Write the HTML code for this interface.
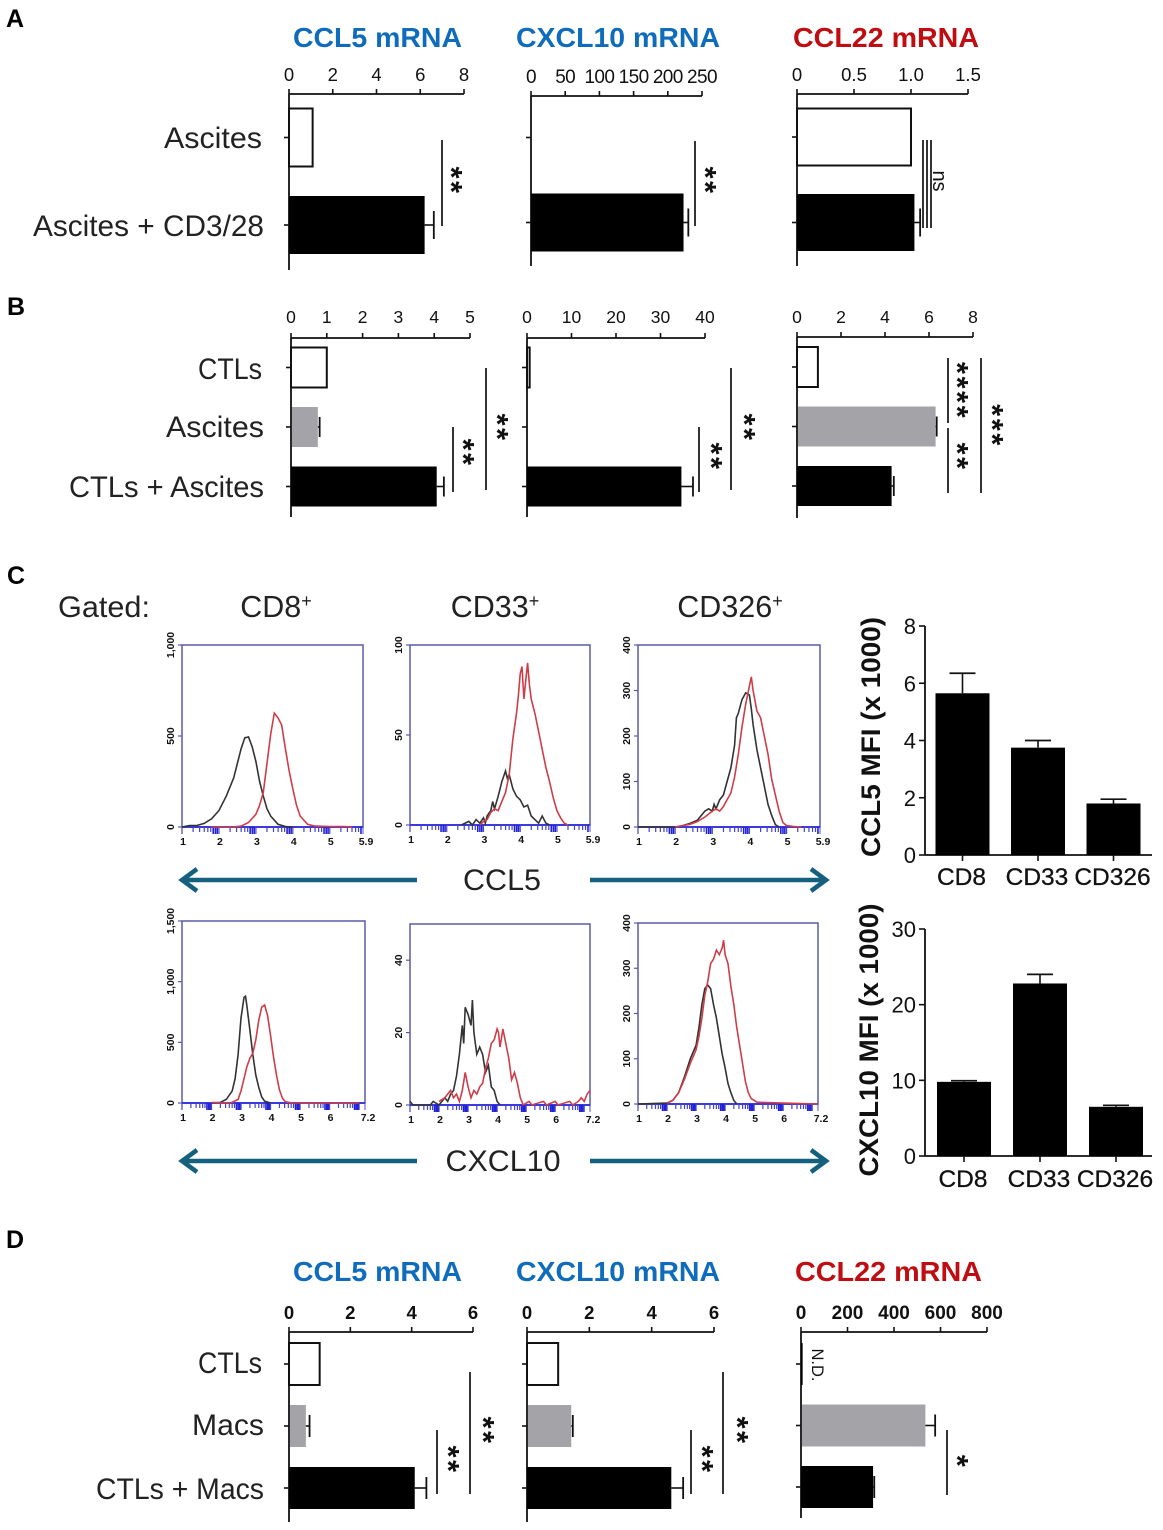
<!DOCTYPE html>
<html lang="en">
<head>
<meta charset="utf-8">
<title>CCL5, CXCL10 and CCL22 expression panels</title>
<style>
  html, body { margin: 0; padding: 0; background: #fff; }
  svg { display: block; }
  text { font-family: "Liberation Sans", sans-serif; fill: #111; }
  .cat { font-size: 29.5px; fill: #222; }
  .gate { font-size: 30.5px; fill: #222; }
  .title { font-size: 28px; font-weight: bold; }
  .blue { fill: #0f6cbd; }
  .red { fill: #bf0d12; }
  .letter { font-size: 25px; font-weight: bold; fill: #000; }
</style>
</head>
<body>
<svg id="fig" xmlns="http://www.w3.org/2000/svg" width="1163" height="1530" viewBox="0 0 1163 1530">
  <rect width="1163" height="1530" fill="#fff"/>

  <text class="letter" x="6" y="27">A</text>
  <text class="letter" x="7" y="315">B</text>
  <text class="letter" x="7" y="584">C</text>
  <text class="letter" x="6" y="1248">D</text>

  <text class="title blue" x="293" y="47" textLength="169" lengthAdjust="spacingAndGlyphs">CCL5 mRNA</text>
  <text class="title blue" x="516" y="47" textLength="204" lengthAdjust="spacingAndGlyphs">CXCL10 mRNA</text>
  <text class="title red" x="793" y="47" textLength="186" lengthAdjust="spacingAndGlyphs">CCL22 mRNA</text>

  <text class="title blue" x="293" y="1309" dy="-28" textLength="169" lengthAdjust="spacingAndGlyphs">CCL5 mRNA</text>
  <text class="title blue" x="516" y="1309" dy="-28" textLength="204" lengthAdjust="spacingAndGlyphs">CXCL10 mRNA</text>
  <text class="title red" x="795" y="1309" dy="-28" textLength="187" lengthAdjust="spacingAndGlyphs">CCL22 mRNA</text>

  <text class="cat" x="262" y="148" text-anchor="end" textLength="98" lengthAdjust="spacingAndGlyphs">Ascites</text>
  <text class="cat" x="264" y="236" text-anchor="end" textLength="231" lengthAdjust="spacingAndGlyphs">Ascites + CD3/28</text>
  <text class="cat" x="262" y="379" text-anchor="end" textLength="64" lengthAdjust="spacingAndGlyphs">CTLs</text>
  <text class="cat" x="264" y="437" text-anchor="end" textLength="98" lengthAdjust="spacingAndGlyphs">Ascites</text>
  <text class="cat" x="264" y="497" text-anchor="end" textLength="195" lengthAdjust="spacingAndGlyphs">CTLs + Ascites</text>
  <text class="cat" x="262" y="1373" text-anchor="end" textLength="64" lengthAdjust="spacingAndGlyphs">CTLs</text>
  <text class="cat" x="264" y="1435" text-anchor="end" textLength="72" lengthAdjust="spacingAndGlyphs">Macs</text>
  <text class="cat" x="264" y="1499" text-anchor="end" textLength="168" lengthAdjust="spacingAndGlyphs">CTLs + Macs</text>

  <text class="cat" x="58" y="617" textLength="92" lengthAdjust="spacingAndGlyphs">Gated:</text>
  <text class="gate" x="276" y="617" text-anchor="middle">CD8<tspan font-size="18" dy="-10">+</tspan></text>
  <text class="gate" x="495" y="617" text-anchor="middle">CD33<tspan font-size="18" dy="-10">+</tspan></text>
  <text class="gate" x="730" y="617" text-anchor="middle">CD326<tspan font-size="18" dy="-10">+</tspan></text>

  <text class="cat" x="502" y="890" text-anchor="middle" textLength="78" lengthAdjust="spacingAndGlyphs">CCL5</text>
  <text class="cat" x="503" y="1171" text-anchor="middle" textLength="115" lengthAdjust="spacingAndGlyphs">CXCL10</text>

  <g fill="none" stroke="#15607f" stroke-width="4.5">
    <path d="M417 880H183M197 869L182 880L197 891"/>
    <path d="M590 880H825M811 869L826 880L811 891"/>
    <path d="M417 1161H183M197 1150L182 1161L197 1172"/>
    <path d="M590 1161H825M811 1150L826 1161L811 1172"/>
  </g>

  <text transform="translate(880,737) rotate(-90)" text-anchor="middle" font-size="27" font-weight="bold" textLength="240" lengthAdjust="spacingAndGlyphs">CCL5 MFI (x 1000)</text>
  <text transform="translate(878,1040) rotate(-90)" text-anchor="middle" font-size="27" font-weight="bold" textLength="273" lengthAdjust="spacingAndGlyphs">CXCL10 MFI (x 1000)</text>

  <g id="charts"></g>
</svg>

<script>
/* ---------- Horizontal bar data (panels A, B, D) ---------- */
const aCcl5Ticks = [0, 2, 4, 6, 8];
const aCcl5Values = [1.08, 6.2];
const aCcl5Errors = [0, 0.42];
const aCxcl10Ticks = [0, 50, 100, 150, 200, 250];
const aCxcl10Values = [0, 223];
const aCxcl10Errors = [0, 7];
const aCcl22Ticks = ["0", "0.5", "1.0", "1.5"];
const aCcl22Values = [1.0, 1.03];
const aCcl22Errors = [0, 0.05];

const bCcl5Ticks = [0, 1, 2, 3, 4, 5];
const bCcl5Values = [1, 0.75, 4.07];
const bCcl5Errors = [0, 0.05, 0.2];
const bCxcl10Ticks = [0, 10, 20, 30, 40];
const bCxcl10Values = [0.6, 0, 34.7];
const bCxcl10Errors = [0, 0, 2.6];
const bCcl22Ticks = [0, 2, 4, 6, 8];
const bCcl22Values = [0.95, 6.3, 4.3];
const bCcl22Errors = [0, 0.05, 0.1];

const dCcl5Ticks = [0, 2, 4, 6];
const dCcl5Values = [1, 0.55, 4.1];
const dCcl5Errors = [0, 0.12, 0.38];
const dCxcl10Ticks = [0, 2, 4, 6];
const dCxcl10Values = [1, 1.42, 4.63];
const dCxcl10Errors = [0, 0.05, 0.38];
const dCcl22Ticks = [0, 200, 400, 600, 800];
const dCcl22Values = [7, 535, 310];
const dCcl22Errors = [0, 42, 5];

/* ---------- Vertical MFI bar data (panel C) ---------- */
const mfiCategories = ["CD8", "CD33", "CD326"];
const ccl5MfiTicks = [0, 2, 4, 6, 8];
const ccl5MfiValues = [5.65, 3.75, 1.8];
const ccl5MfiErrors = [0.7, 0.25, 0.15];
const cxcl10MfiTicks = [0, 10, 20, 30];
const cxcl10MfiValues = [9.8, 22.8, 6.5];
const cxcl10MfiErrors = [0.15, 1.2, 0.2];

/* ---------- Flow cytometry histogram data ---------- */
const ccl5Cd8X = [1, 1.2, 1.4, 1.6, 1.8, 2, 2.2, 2.4, 2.5, 2.6, 2.7, 2.8, 2.9, 3, 3.1, 3.2, 3.3, 3.4, 3.6, 3.8, 4];
const ccl5Cd8Iso = [0, 8, 8, 20, 45, 90, 170, 270, 350, 430, 490, 495, 440, 360, 250, 170, 100, 60, 15, 3, 0];
const ccl5Cd8StainX = [1.8, 2.4, 2.6, 2.8, 3, 3.1, 3.2, 3.3, 3.4, 3.5, 3.6, 3.7, 3.8, 3.9, 4, 4.1, 4.2, 4.4, 4.6, 5, 5.4, 5.6];
const ccl5Cd8Stain = [0, 0, 5, 25, 70, 120, 190, 350, 510, 626, 600, 560, 430, 310, 210, 120, 60, 15, 5, 3, 3, 0];

const ccl5Cd33X = [2.4, 2.6, 2.7, 2.8, 2.9, 3, 3.05, 3.1, 3.2, 3.25, 3.3, 3.4, 3.5, 3.6, 3.65, 3.7, 3.8, 3.9, 4, 4.1, 4.2, 4.3, 4.4, 4.5, 4.6, 4.7, 4.8];
const ccl5Cd33Iso = [0, 2, 0, 3, 1, 4, 1, 5, 8, 13, 9, 16, 24, 30, 26, 28, 20, 16, 14, 10, 11, 5, 3, 1, 5, 1, 0];
const ccl5Cd33StainX = [2.9, 3, 3.1, 3.2, 3.3, 3.4, 3.5, 3.6, 3.7, 3.8, 3.9, 3.95, 4, 4.05, 4.1, 4.15, 4.2, 4.25, 4.3, 4.4, 4.5, 4.6, 4.7, 4.8, 4.9, 5, 5.1, 5.2, 5.3];
const ccl5Cd33Stain = [0, 2, 3, 7, 9, 8, 13, 18, 28, 48, 62, 72, 84, 88, 70, 80, 90, 78, 70, 62, 52, 42, 32, 24, 15, 8, 4, 1, 0];

const ccl5Cd326X = [1, 2, 2.2, 2.4, 2.6, 2.7, 2.8, 2.9, 3, 3.05, 3.1, 3.2, 3.3, 3.4, 3.5, 3.6, 3.65, 3.7, 3.8, 3.9, 4, 4.05, 4.1, 4.2, 4.3, 4.4, 4.5, 4.6, 4.7, 4.8];
const ccl5Cd326Iso = [0, 0, 3, 8, 15, 25, 35, 40, 35, 50, 40, 60, 70, 100, 130, 180, 240, 250, 280, 295, 290, 260, 225, 170, 130, 90, 50, 25, 5, 0];
const ccl5Cd326StainX = [2, 2.2, 2.4, 2.6, 2.8, 3, 3.1, 3.2, 3.3, 3.4, 3.5, 3.6, 3.7, 3.8, 3.9, 4, 4.05, 4.1, 4.2, 4.3, 4.4, 4.5, 4.6, 4.7, 4.8, 4.9, 5, 5.2, 5.4];
const ccl5Cd326Stain = [0, 3, 6, 12, 22, 35, 40, 35, 45, 60, 75, 110, 160, 220, 270, 310, 330, 300, 255, 240, 200, 160, 105, 70, 35, 10, 3, 1, 0];

const cxcl10Cd8X = [2, 2.3, 2.5, 2.7, 2.8, 2.9, 3, 3.1, 3.15, 3.2, 3.3, 3.4, 3.5, 3.6, 3.7, 3.8, 4];
const cxcl10Cd8Iso = [0, 5, 30, 100, 200, 400, 700, 870, 880, 800, 600, 400, 230, 130, 50, 15, 0];
const cxcl10Cd8StainX = [2, 2.5, 2.7, 2.9, 3, 3.1, 3.2, 3.3, 3.4, 3.5, 3.6, 3.7, 3.8, 3.9, 4, 4.1, 4.2, 4.3, 4.4, 4.5, 4.7, 7];
const cxcl10Cd8Stain = [5, 0, 5, 30, 100, 200, 300, 370, 410, 520, 680, 790, 808, 720, 560, 380, 230, 110, 40, 10, 2, 0];

const cxcl10Cd33X = [1, 1.1, 1.7, 1.8, 2, 2.1, 2.2, 2.3, 2.4, 2.5, 2.6, 2.7, 2.8, 2.85, 2.9, 3, 3.1, 3.15, 3.2, 3.3, 3.4, 3.5, 3.6, 3.7, 3.8, 3.9, 4, 4.1];
const cxcl10Cd33Iso = [1, 0, 0, 1, 0, 1, 2, 1, 3, 4, 8, 14, 22, 17, 27, 25, 22, 29, 20, 14, 16, 14, 9, 11, 5, 4, 1, 0];
const cxcl10Cd33StainX = [2, 2.2, 2.4, 2.5, 2.6, 2.7, 2.8, 2.9, 3, 3.1, 3.2, 3.3, 3.4, 3.5, 3.6, 3.7, 3.8, 3.9, 4, 4.05, 4.1, 4.2, 4.3, 4.4, 4.5, 4.6, 4.7, 4.8, 4.9, 5.1, 5.2, 5.6, 5.7, 6, 6.1, 6.5, 6.6, 6.8, 6.9, 7, 7.1, 7.2];
const cxcl10Cd33Stain = [1, 2, 4, 2, 3, 1, 4, 9, 5, 2, 4, 3, 5, 6, 10, 13, 17, 18, 21, 20, 16, 21, 17, 13, 7, 9, 6, 2, 0, 1, 0, 1, 0, 1, 0, 1, 0, 1, 2, 1, 3, 4];

const cxcl10Cd326X = [1, 2, 2.2, 2.4, 2.6, 2.8, 3, 3.1, 3.2, 3.3, 3.4, 3.5, 3.6, 3.7, 3.8, 3.9, 4, 4.1, 4.2, 4.3, 4.4];
const cxcl10Cd326Iso = [0, 2, 8, 25, 60, 100, 130, 170, 220, 255, 263, 255, 220, 190, 150, 110, 80, 45, 25, 8, 0];
const cxcl10Cd326StainX = [2, 2.2, 2.4, 2.6, 2.8, 3, 3.1, 3.2, 3.3, 3.4, 3.5, 3.6, 3.7, 3.8, 3.9, 3.95, 4, 4.1, 4.2, 4.3, 4.4, 4.5, 4.6, 4.7, 4.8, 4.9, 5.1, 6, 7.2];
const cxcl10Cd326Stain = [2, 8, 25, 55, 90, 120, 150, 190, 240, 270, 310, 320, 340, 330, 345, 362, 330, 310, 260, 220, 170, 130, 90, 50, 25, 12, 4, 2, 0];

const histTicksK1 = [0, 500, 1000];
const histTicks100 = [0, 50, 100];
const histTicks400 = [0, 100, 200, 300, 400];
const histTicks1500 = [0, 500, 1000, 1500];
const histTicks50 = [0, 20, 40];

/* ---------- Drawing helpers ---------- */
const SVGNS = "http://www.w3.org/2000/svg";
const root = document.getElementById("charts");

function add(parent, tag, attrs, name, content) {
  const el = document.createElementNS(SVGNS, tag);
  for (const k in attrs) el.setAttribute(k, attrs[k]);
  
  
  if (content !== undefined) el.textContent = content;
  parent.appendChild(el);
  return el;
}
function line(parent, x1, y1, x2, y2, color, w, name) {
  return add(parent, "line", { x1, y1, x2, y2, stroke: color, "stroke-width": w }, name);
}
function stars(parent, cx, cy, label, name) {
  const fs = 31;
  add(parent, "text", {
    transform: "translate(" + (cx - fs * 0.48) + "," + cy + ") rotate(90)",
    "text-anchor": "middle", "font-size": fs, "font-weight": "bold", fill: "#000",
    "letter-spacing": "2.5"
  }, name, label);
}
const BAR_FILLS = { white: "#fff", gray: "#a4a4a8", black: "#000" };

function hbarChart(cfg) {
  const g = add(root, "g", {}, cfg.name);
  const maxVal = Math.max.apply(null, cfg.ticks.map(Number));
  const x = v => cfg.left + (v / maxVal) * (cfg.right - cfg.left);
  const y = i => cfg.firstCenter + i * cfg.step;
  const cap = cfg.capH || 10;

  line(g, cfg.left, cfg.axisY, cfg.right, cfg.axisY, "#111", 1.8, "x-axis");
  line(g, cfg.left, cfg.axisY, cfg.left, cfg.bottom, "#111", 1.8, "y-axis");

  cfg.ticks.forEach(t => {
    const px = x(Number(t));
    line(g, px, cfg.axisY - 5, px, cfg.axisY, "#111", 1.6, "x-tick");
    add(g, "text", {
      x: px, y: cfg.labelY, "text-anchor": "middle",
      "font-size": cfg.tickSize || 17.5, "font-weight": cfg.tickBold ? "bold" : "normal",
      "letter-spacing": cfg.tickSpacing || 0
    }, "x-tick-label", String(t));
  });

  cfg.values.forEach((v, i) => {
    const cy = y(i);
    line(g, cfg.left - 5, cy, cfg.left, cy, "#111", 1.6, "y-tick");
    const kind = cfg.kinds[i];
    if (v > 0) {
      add(g, "rect", {
        x: cfg.left + (kind === "gray" ? 1 : 0), y: cy - cfg.barH / 2,
        width: x(v) - cfg.left - (kind === "gray" ? 1 : 0), height: cfg.barH,
        fill: BAR_FILLS[kind],
        stroke: kind === "white" ? "#111" : "none", "stroke-width": 2
      }, "bar-" + kind);
    }
    const e = cfg.errors[i];
    if (e > 0) {
      line(g, x(v), cy, x(v + e), cy, "#111", 1.6, "error-bar");
      line(g, x(v + e), cy - cap, x(v + e), cy + cap, "#111", 1.8, "error-cap");
    }
  });

  (cfg.sig || []).forEach(s => {
    line(g, s.x, s.y1, s.x, s.y2, "#111", 1.7, "significance-line");
    if (s.label) stars(g, s.lx, s.ly, s.label, "significance-label");
  });
}

function vbarChart(cfg) {
  const g = add(root, "g", {}, cfg.name);
  const maxVal = Math.max.apply(null, cfg.ticks);
  const y = v => cfg.bottom - (v / maxVal) * (cfg.bottom - cfg.top);
  const x = i => cfg.firstCenter + i * cfg.step;

  line(g, cfg.left, cfg.top, cfg.left, cfg.bottom, "#111", 1.8, "y-axis");
  line(g, cfg.left, cfg.bottom, cfg.right, cfg.bottom, "#111", 1.8, "x-axis");

  cfg.ticks.forEach(t => {
    line(g, cfg.left - 6, y(t), cfg.left, y(t), "#111", 1.6, "y-tick");
    add(g, "text", { x: cfg.left - 9, y: y(t) + 8, "text-anchor": "end", "font-size": 22, fill: "#222" }, "y-tick-label", String(t));
  });
  cfg.categories.forEach((c, i) => {
    const cx = x(i);
    const v = cfg.values[i];
    const e = cfg.errors[i];
    add(g, "rect", { x: cx - cfg.barW / 2, y: y(v), width: cfg.barW, height: cfg.bottom - y(v), fill: "#000" }, "bar-" + c.toLowerCase());
    line(g, cx, y(v), cx, y(v + e), "#111", 1.6, "error-bar");
    line(g, cx - 13, y(v + e), cx + 13, y(v + e), "#111", 1.7, "error-cap");
    line(g, cx, cfg.bottom, cx, cfg.bottom + 6, "#111", 1.6, "x-tick");
    add(g, "text", {
      x: cx - 1, y: cfg.labelY, "text-anchor": "middle", "font-size": 24.5,
      fill: "#111", stroke: "#111", "stroke-width": 0.3
    }, "x-category-label", c);
  });
}

function histogram(cfg) {
  const g = add(root, "g", {}, cfg.name);
  const blue = "#5a5aa8";
  const x = d => cfg.left + (d - 1) / (cfg.decMax - 1) * (cfg.right - cfg.left);
  const y = c => cfg.bottom - c / cfg.yMax * (cfg.bottom - cfg.top);

  add(g, "rect", { x: cfg.left, y: cfg.top, width: cfg.right - cfg.left, height: cfg.bottom - cfg.top, fill: "#fff", stroke: blue, "stroke-width": 1.5 }, "plot-frame");
  line(g, cfg.left, cfg.bottom, cfg.right, cfg.bottom, "#2a2ae0", 1.8, "x-axis");

  for (let d = 1; d < cfg.decMax; d++) {
    for (let k = 1; k <= 9; k++) {
      const v = d + Math.log10(k);
      if (v > cfg.decMax) break;
      line(g, x(v), cfg.bottom, x(v), cfg.bottom + (k === 1 || k > 6 ? 7 : 5), k > 6 ? "#2020d8" : "#4444c8", k > 6 ? 1.6 : 1.2, "log-tick");
    }
    if (cfg.decMax - d > 0.5) {
      add(g, "text", { x: x(d) + 1, y: cfg.bottom + 18, "text-anchor": "middle", "font-size": 10.5, "font-weight": "bold", fill: "#3a3aa8" }, "x-tick-label", String(d));
    }
  }
  line(g, cfg.right, cfg.bottom, cfg.right, cfg.bottom + 7, "#5050c8", 1, "log-tick");
  add(g, "text", { x: cfg.right + 3, y: cfg.bottom + 18, "text-anchor": "middle", "font-size": 10.5, "font-weight": "bold", fill: "#3a3aa8" }, "x-tick-label", String(cfg.decMax));

  cfg.ticks.forEach(t => {
    line(g, cfg.left - 4, y(t), cfg.left, y(t), blue, 1.2, "y-tick");
    add(g, "text", {
      transform: "translate(" + (cfg.left - 8) + "," + y(t) + ") rotate(-90)",
      "text-anchor": "middle", "font-size": 10.5, "font-weight": "bold", fill: "#5a5aa8"
    }, "y-tick-label", t.toLocaleString("en-US"));
  });

  const path = (xs, ys) => xs.map((d, i) => (i ? "L" : "M") + x(d).toFixed(1) + " " + y(ys[i]).toFixed(1)).join("");
  add(g, "path", { d: path(cfg.isoX, cfg.iso), fill: "none", stroke: "#333", "stroke-width": 1.6 }, "isotype-curve");
  add(g, "path", { d: path(cfg.stainX, cfg.stain), fill: "none", stroke: "#cf3d48", "stroke-width": 1.6 }, "stain-curve");
}

/* ---------- Panel A ---------- */
const aKinds = ["white", "black"];
hbarChart({ name: "chart-a-ccl5", left: 289, right: 464, axisY: 94, bottom: 270, labelY: 81, tickSize: 18.5, capH: 14, firstCenter: 137.5, step: 87.5, barH: 58, ticks: aCcl5Ticks, values: aCcl5Values, errors: aCcl5Errors, kinds: aKinds,
  sig: [{ x: 442, y1: 140, y2: 226, label: "**", lx: 456, ly: 181 }] });
hbarChart({ name: "chart-a-cxcl10", left: 531, right: 702, axisY: 96, bottom: 266, labelY: 83, tickSize: 19, tickSpacing: -0.6, capH: 14, firstCenter: 137.5, step: 85, barH: 58, ticks: aCxcl10Ticks, values: aCxcl10Values, errors: aCxcl10Errors, kinds: aKinds,
  sig: [{ x: 695, y1: 141, y2: 226, label: "**", lx: 710, ly: 181 }] });
hbarChart({ name: "chart-a-ccl22", left: 797, right: 968, axisY: 94, bottom: 266, labelY: 81, tickSize: 18.5, capH: 14, firstCenter: 137, step: 85.5, barH: 57, ticks: aCcl22Ticks, values: aCcl22Values, errors: aCcl22Errors, kinds: aKinds,
  sig: [{ x: 923, y1: 140, y2: 228 }, { x: 927, y1: 140, y2: 228 }, { x: 931, y1: 140, y2: 228 }] });
add(root, "text", { transform: "translate(933,181) rotate(90)", "text-anchor": "middle", "font-size": 20, fill: "#333" }, "significance-ns", "ns");

/* ---------- Panel B ---------- */
const bKinds = ["white", "gray", "black"];
hbarChart({ name: "chart-b-ccl5", left: 291, right: 470, axisY: 338, bottom: 517, labelY: 323, firstCenter: 367.5, step: 59.5, barH: 40, ticks: bCcl5Ticks, values: bCcl5Values, errors: bCcl5Errors, kinds: bKinds,
  sig: [{ x: 453, y1: 427, y2: 492, label: "**", lx: 468, ly: 453 }, { x: 486, y1: 368, y2: 490, label: "**", lx: 502, ly: 428 }] });
hbarChart({ name: "chart-b-cxcl10", left: 527, right: 705, axisY: 338, bottom: 517, labelY: 323, firstCenter: 367.5, step: 59.5, barH: 40, ticks: bCxcl10Ticks, values: bCxcl10Values, errors: bCxcl10Errors, kinds: bKinds,
  sig: [{ x: 699, y1: 427, y2: 492, label: "**", lx: 716, ly: 457 }, { x: 731, y1: 368, y2: 490, label: "**", lx: 749, ly: 428 }] });
hbarChart({ name: "chart-b-ccl22", left: 797, right: 973, axisY: 337, bottom: 518, labelY: 323, firstCenter: 367, step: 59.5, barH: 40, ticks: bCcl22Ticks, values: bCcl22Values, errors: bCcl22Errors, kinds: bKinds,
  sig: [{ x: 948, y1: 358, y2: 423, label: "****", lx: 962, ly: 391 }, { x: 948, y1: 428, y2: 493, label: "**", lx: 962, ly: 457 }, { x: 981, y1: 358, y2: 493, label: "***", lx: 997, ly: 426 }] });

/* ---------- Panel D ---------- */
hbarChart({ name: "chart-d-ccl5", left: 289, right: 473, axisY: 1332, bottom: 1522, labelY: 1319, tickSize: 18.5, tickBold: true, capH: 11, firstCenter: 1364, step: 62, barH: 42, ticks: dCcl5Ticks, values: dCcl5Values, errors: dCcl5Errors, kinds: bKinds,
  sig: [{ x: 437, y1: 1430, y2: 1494, label: "**", lx: 453, ly: 1460 }, { x: 470, y1: 1372, y2: 1494, label: "**", lx: 488, ly: 1431 }] });
hbarChart({ name: "chart-d-cxcl10", left: 527, right: 714, axisY: 1332, bottom: 1522, labelY: 1319, tickSize: 18.5, tickBold: true, capH: 11, firstCenter: 1364, step: 62, barH: 42, ticks: dCxcl10Ticks, values: dCxcl10Values, errors: dCxcl10Errors, kinds: bKinds,
  sig: [{ x: 691, y1: 1430, y2: 1494, label: "**", lx: 707, ly: 1460 }, { x: 723, y1: 1372, y2: 1494, label: "**", lx: 742, ly: 1431 }] });
hbarChart({ name: "chart-d-ccl22", left: 801, right: 987, axisY: 1332, bottom: 1518, labelY: 1319, tickSize: 19, tickBold: true, capH: 11, firstCenter: 1364, step: 61.5, barH: 42, ticks: dCcl22Ticks, values: dCcl22Values, errors: dCcl22Errors, kinds: ["black", "gray", "black"],
  sig: [{ x: 947, y1: 1430, y2: 1495, label: "*", lx: 962, ly: 1462 }] });
add(root, "text", { transform: "translate(812,1365) rotate(90)", "text-anchor": "middle", "font-size": 16.5, fill: "#555" }, "not-detected-label", "N.D.");

/* ---------- Panel C: MFI bars ---------- */
vbarChart({ name: "chart-ccl5-mfi", left: 925, right: 1152, top: 626, bottom: 855, labelY: 885, firstCenter: 962.5, step: 75.5, barW: 54, categories: mfiCategories, ticks: ccl5MfiTicks, values: ccl5MfiValues, errors: ccl5MfiErrors });
vbarChart({ name: "chart-cxcl10-mfi", left: 925, right: 1152, top: 929, bottom: 1156, labelY: 1187, firstCenter: 964, step: 76, barW: 54, categories: mfiCategories, ticks: cxcl10MfiTicks, values: cxcl10MfiValues, errors: cxcl10MfiErrors });

/* ---------- Panel C: histograms ---------- */
histogram({ name: "histogram-ccl5-cd8", left: 182, right: 363, top: 645, bottom: 827, decMax: 5.9, yMax: 1000, ticks: histTicksK1, isoX: ccl5Cd8X, iso: ccl5Cd8Iso, stainX: ccl5Cd8StainX, stain: ccl5Cd8Stain });
histogram({ name: "histogram-ccl5-cd33", left: 410, right: 590, top: 645, bottom: 825, decMax: 5.9, yMax: 100, ticks: histTicks100, isoX: ccl5Cd33X, iso: ccl5Cd33Iso, stainX: ccl5Cd33StainX, stain: ccl5Cd33Stain });
histogram({ name: "histogram-ccl5-cd326", left: 638, right: 820, top: 645, bottom: 827, decMax: 5.9, yMax: 400, ticks: histTicks400, isoX: ccl5Cd326X, iso: ccl5Cd326Iso, stainX: ccl5Cd326StainX, stain: ccl5Cd326Stain });
histogram({ name: "histogram-cxcl10-cd8", left: 182, right: 365, top: 921, bottom: 1103, decMax: 7.2, yMax: 1500, ticks: histTicks1500, isoX: cxcl10Cd8X, iso: cxcl10Cd8Iso, stainX: cxcl10Cd8StainX, stain: cxcl10Cd8Stain });
histogram({ name: "histogram-cxcl10-cd33", left: 410, right: 590, top: 924, bottom: 1105, decMax: 7.2, yMax: 50, ticks: histTicks50, isoX: cxcl10Cd33X, iso: cxcl10Cd33Iso, stainX: cxcl10Cd33StainX, stain: cxcl10Cd33Stain });
histogram({ name: "histogram-cxcl10-cd326", left: 638, right: 818, top: 923, bottom: 1104, decMax: 7.2, yMax: 400, ticks: histTicks400, isoX: cxcl10Cd326X, iso: cxcl10Cd326Iso, stainX: cxcl10Cd326StainX, stain: cxcl10Cd326Stain });
</script>
</body>
</html>
